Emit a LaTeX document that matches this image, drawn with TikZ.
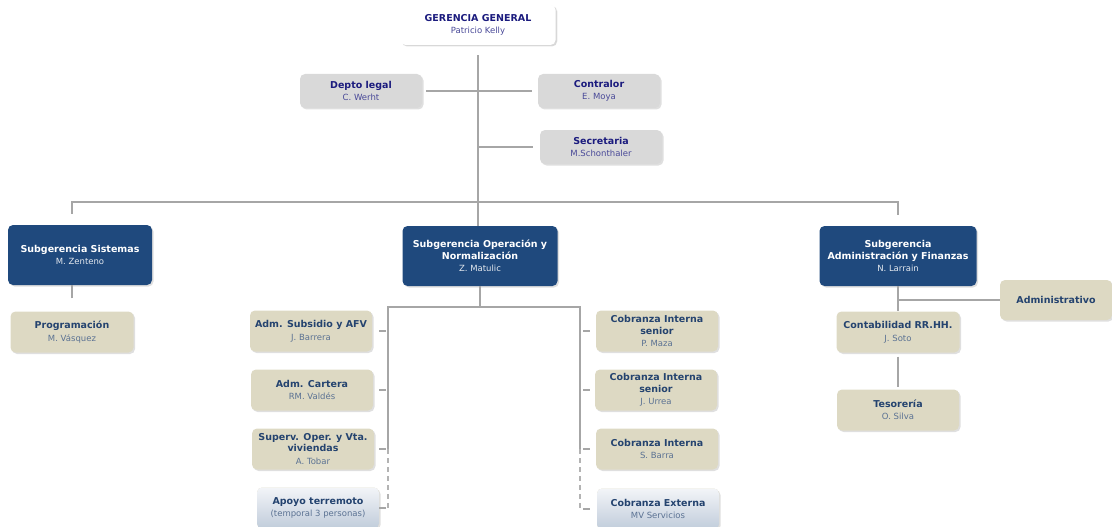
\documentclass[tikz,border=0pt]{standalone}
\usepackage{fontspec}
\setmainfont{DejaVu Sans}
\usetikzlibrary{shadows}
\definecolor{navy}{HTML}{1F497D}
\definecolor{beige}{HTML}{DDD9C3}
\definecolor{grisbox}{HTML}{D9D9D9}
\definecolor{linegray}{HTML}{A6A6A6}
\definecolor{inktop}{HTML}{1B1B7E}
\definecolor{inkunit}{HTML}{24436F}
\newcommand{\who}[1]{\\[1pt]{\mdseries\fontsize{8.5}{10}\selectfont\color{namecol}#1}}

\begin{document}
\begin{tikzpicture}[x=1pt,y=-1pt,
	box/.style = {rounded corners=5pt, align=center, inner sep=0pt,
		font=\bfseries\fontsize{9.5}{11.5}\selectfont,
		drop shadow={opacity=0.25,shadow xshift=1.5pt,shadow yshift=-1.5pt}},
	top node/.style = {box, fill=white, text=inktop, minimum width=155pt, minimum height=40pt,
		drop shadow={opacity=0.08,shadow xshift=2pt,shadow yshift=-1pt},
		execute at begin node=\colorlet{namecol}{inktop!80}},
	staff node/.style = {box, fill=grisbox, text=inktop, minimum width=122pt, minimum height=34pt,
		execute at begin node=\colorlet{namecol}{inktop!80}},
	sub node/.style = {box, fill=navy, text=white, minimum height=60pt,
		execute at begin node=\colorlet{namecol}{white!88!navy}},
	unit node/.style = {box, fill=beige, text=inkunit, minimum width=122pt, minimum height=41pt,
		execute at begin node=\colorlet{namecol}{inkunit!75!white}},
	temp node/.style = {unit node, top color=white!60!navy!14, bottom color=navy!28},
	link/.style = {draw=linegray, line width=2pt},
	dash link/.style = {draw=linegray!85, line width=1.5pt, dash pattern=on 5pt off 4pt}]

	\useasboundingbox (0,0) rectangle (1112,527);

	\node[top node] (1) at (478,25) {GERENCIA GENERAL\who{Patricio Kelly}};
	\node[staff node] (2) at (361,91) {Depto legal\who{C. Werht}};
	\node[staff node] (3) at (599,91) {Contralor\who{E. Moya}};
	\node[staff node] (4) at (601,147) {Secretaria\who{M.Schonthaler}};

	\node[sub node, minimum width=144pt] (5) at (80,255) {Subgerencia Sistemas\who{M. Zenteno}};
	\node[unit node, minimum width=123pt] (6) at (72,332) {Programación\who{M. Vásquez}};

	\node[sub node, minimum width=155pt] (15) at (480,256) {Subgerencia Operación y\\Normalización\who{Z. Matulic}};
	\node[unit node] (7) at (311,331) {Adm. Subsidio y AFV\who{J. Barrera}};
	\node[unit node] (8) at (312,390) {Adm. Cartera\who{RM. Valdés}};
	\node[unit node] (9) at (313,449) {Superv. Oper. y Vta.\\viviendas\who{A. Tobar}};
	\node[temp node] (10) at (318,508) {Apoyo terremoto\who{(temporal 3 personas)}};
	\node[unit node] (11) at (657,331) {Cobranza Interna\\senior\who{P. Maza}};
	\node[unit node] (12) at (656,390) {Cobranza Interna\\senior\who{J. Urrea}};
	\node[unit node] (13) at (657,449) {Cobranza Interna\who{S. Barra}};
	\node[temp node] (14) at (658,509) {Cobranza Externa\who{MV Servicios}};

	\node[sub node, minimum width=157pt] (16) at (898,256) {Subgerencia\\Administración y Finanzas\who{N. Larrain}};
	\node[unit node, minimum width=112pt, minimum height=40pt] (17) at (1056,300) {Administrativo};
	\node[unit node, minimum width=123pt] (18) at (898,332) {Contabilidad RR.HH.\who{J. Soto}};
	\node[unit node] (19) at (898,410) {Tesorería\who{O. Silva}};

	% gerencia
	\draw[link, shorten <=10pt] (1.south) -- (1.south |- 15.north);
	\draw[link, shorten <=4pt, shorten >=6pt] (2.east) -- (3.west);
	\draw[link, shorten >=7pt] (4.west -| 1.south) -- (4.west);
	\draw[link, shorten <=11pt, shorten >=11pt] ([xshift=-8pt]5.north) -- ++(0,-23) -| (16.north);

	% sistemas
	\draw[link, shorten <=13pt] (6.north) -- (6.north |- 5.south);

	% operacion
	\coordinate (lb) at (388,307);
	\coordinate (rb) at (580,307);
	\draw[link] (15.south) -- (15.south |- lb);
	\draw[link] (9.east -| lb) -- (lb) -- (rb) -- (13.west -| rb);
	\draw[dash link] (9.east -| lb) -- (10.east -| lb);
	\draw[dash link] (13.west -| rb) -- (14.west -| rb);
	\foreach \n in {7,8,9,10}
		\draw[link] ([xshift=-2pt]\n.east -| lb) -- ++(-7,0);
	\foreach \n in {11,12,13,14}
		\draw[link] ([xshift=3pt]\n.west -| rb) -- ++(7,0);

	% administracion
	\draw[link] (16) -- (18);
	\draw[link] (17.west) -- (17.west -| 16.south);
	\draw[link, shorten <=4pt, shorten >=2pt] (18) -- (19);

\end{tikzpicture}
\end{document}
